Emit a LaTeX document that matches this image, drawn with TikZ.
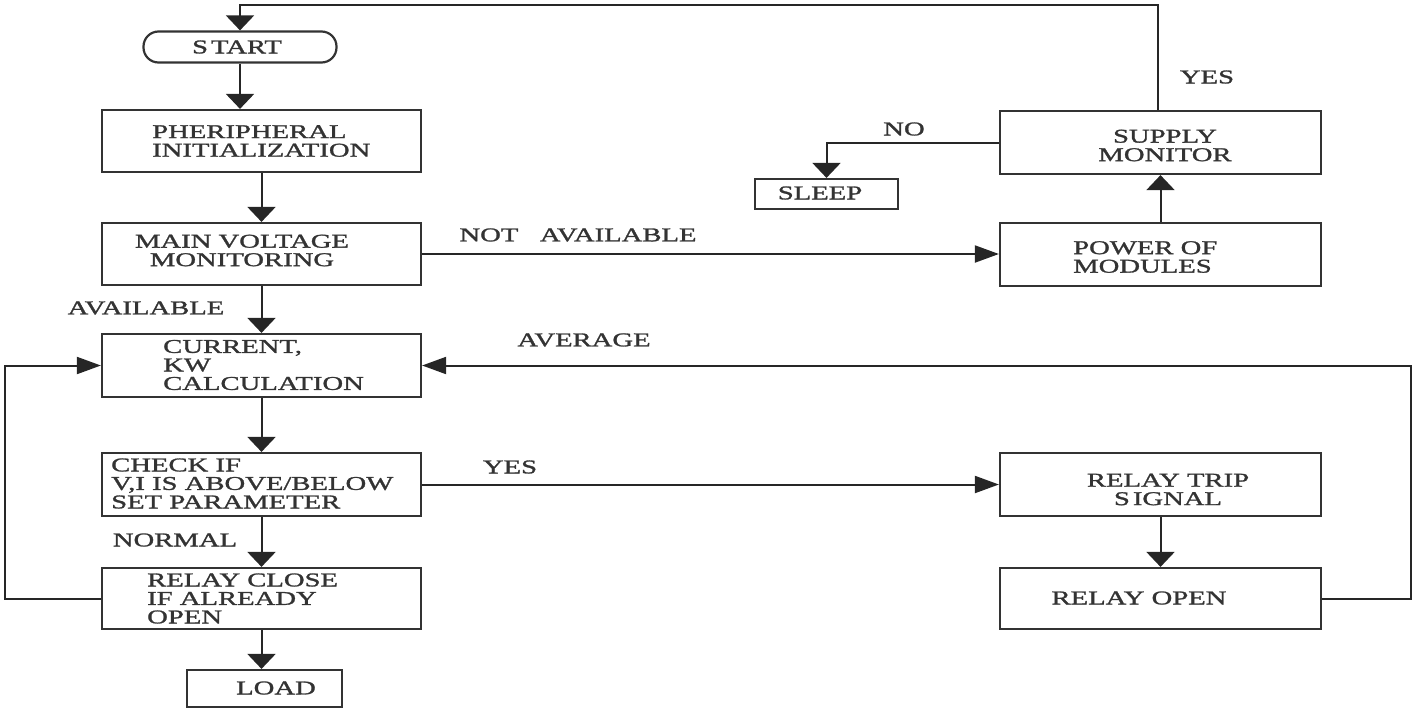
\documentclass[tikz,border=0pt]{standalone}
\usepackage{fontspec}
\setmainfont{Liberation Serif}[FakeStretch=1.47,FakeBold=1.4]
\usetikzlibrary{arrows.meta}
\begin{document}
\begin{tikzpicture}[x=1pt,y=-1pt,
  box/.style={draw=black!80,line width=2.2pt,minimum width=319pt,minimum height=62pt,inner sep=0pt},
  txt/.style={inner sep=0pt,text=black!80,font=\fontsize{19.5}{18.5}\selectfont},
  conn/.style={draw=black!85,line width=2pt},
  varr/.style={conn,-{Triangle[width=28pt,length=15pt]}},
  harr/.style={conn,-{Triangle[width=17pt,length=24pt]}}]
\useasboundingbox (0,0) rectangle (1418,713);
% left column boxes
\node[box,minimum width=193pt,minimum height=31pt,rounded corners=15pt] (start) at (240,47) {};
\node[box] (per)  at (261.5,141) {};
\node[box] (main) at (261.5,254) {};
\node[box,minimum height=63pt] (cur) at (261.5,365.5) {};
\node[box,minimum height=63pt] (chk) at (261.5,484.5) {};
\node[box,minimum height=61pt] (rc)  at (261.5,598.5) {};
\node[box,minimum width=155pt,minimum height=37pt] (load) at (264.5,688.5) {};
% right column boxes
\node[box,minimum width=321pt,minimum height=63pt] (sup) at (1160.5,142.5) {};
\node[box,minimum width=321pt,minimum height=63pt] (pow) at (1160.5,254.5) {};
\node[box,minimum width=321pt,minimum height=63pt] (rt)  at (1160.5,484.5) {};
\node[box,minimum width=321pt,minimum height=61pt] (ro)  at (1160.5,598.5) {};
\node[box,minimum width=143pt,minimum height=30pt] (sleep) at (826.5,194) {};
% box texts
\node[txt] (tstart) at (237,47) {S\kern3pt TART};
\node[txt,anchor=west,align=left] (tper) at (152,141) {PHERIPHERAL\\INITIALIZATION};
\node[txt,align=center] (tmain) at (242,250.5) {MAIN VOLTAGE\\MONITORING};
\node[txt,anchor=west,align=left] (tcur) at (163,365) {CURRENT,\\KW\\CALCULATION};
\node[txt,anchor=west,align=left] (tchk) at (111,483.5) {CHECK IF\\V,I IS ABOVE/BELOW\\SET PARAMETER};
\node[txt,anchor=west,align=left] (trc) at (147,598.5) {RELAY CLOSE\\IF ALREADY\\OPEN};
\node[txt] (tload) at (276,688) {LOAD};
\node[txt,align=center] (tsup) at (1165,145.5) {SUPPLY\\MONITOR};
\node[txt,anchor=west,align=left] (tpow) at (1073,257) {POWER OF\\MODULES};
\node[txt,align=center] (trt) at (1168,489.5) {RELAY TRIP\\S\kern3pt IGNAL};
\node[txt] (tro) at (1139,598) {RELAY OPEN};
\node[txt] (tsleep) at (820,193) {SLEEP};
% connector labels
\node[txt] (lavail) at (146,308) {AVAILABLE};
\node[txt] (lnot) at (578,235) {NOT\ \ \ AVAILABLE};
\node[txt] (lavg) at (584,340) {AVERAGE};
\node[txt] (lyes1) at (510,467) {YES};
\node[txt] (lnorm) at (175,540) {NORMAL};
\node[txt] (lno) at (904,129) {NO};
\node[txt] (lyes2) at (1207,77) {YES};
% connectors
\coordinate (topR) at (1158,5);
\coordinate (rloop) at (1411,598.5);
\coordinate (lloop) at (5,598.5);
\draw[varr] (sup.north -| topR) -- (topR) -| (start.north);
\draw[varr] (start.south) -- (start.south |- per.north);
\draw[varr] (per.south) -- (main.north);
\draw[varr] (main.south) -- (cur.north);
\draw[varr] (cur.south) -- (chk.north);
\draw[varr] (chk.south) -- (rc.north);
\draw[varr] (rc.south) -- (rc.south |- load.north);
\draw[harr] (main.east) -- (main.east -| pow.west);
\draw[varr] (pow.north) -- (sup.south);
\draw[varr] (sup.west) -| (sleep.north);
\draw[harr] (chk.east) -- (rt.west);
\draw[varr] (rt.south) -- (ro.north);
\draw[harr] (ro.east) -- (rloop) |- (cur.east);
\draw[harr] (rc.west) -- (lloop) |- (cur.west);
\end{tikzpicture}
\end{document}
